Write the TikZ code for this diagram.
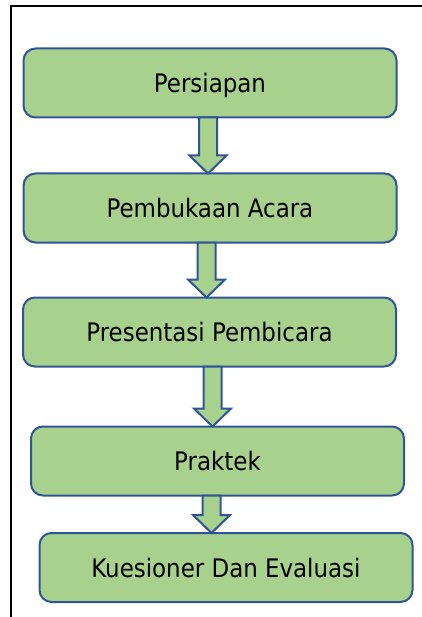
\documentclass[tikz,border=0pt]{standalone}
\usepackage{fontspec}
\setmainfont{DejaVu Sans Condensed}
\usetikzlibrary{calc}
\definecolor{boxfill}{HTML}{A9D18E}
\definecolor{boxline}{HTML}{2F5597}
\tikzset{
  stepbox/.style={draw=boxline, fill=boxfill, line width=2pt, rounded corners=12pt,
    minimum width=373pt, minimum height=69pt, inner sep=0pt, outer sep=0pt},
  steptext/.style={inner sep=0pt, text height=19pt, text depth=6.4pt,
    font=\fontsize{25.5}{30}\selectfont, text=black},
  barrow/.style={draw=boxline, fill=boxfill, line width=2pt, line join=miter},
  frameline/.style={draw=black, line width=2.2pt}
}
\newcommand\myblockarrow[4]{%
  \draw[barrow] ($(#1.south)+(#3-9,0)$) -- ($(#2.north)+(#4-9,-18)$)
    -- ($(#2.north)+(#4-18.5,-18)$) -- ($(#2.north)+(#4,0)$)
    -- ($(#2.north)+(#4+18.5,-18)$) -- ($(#2.north)+(#4+9,-18)$)
    -- ($(#1.south)+(#3+9,0)$) -- cycle;}
\newcommand\mystep[3]{%
  \node[stepbox] (#1) at (#2) {};
  \node[steptext] (#1t) at ($(#1.center)+(0,3.6)$) {#3};}
\begin{document}
\begin{tikzpicture}[x=1pt,y=-1pt]
\useasboundingbox (0,0) rectangle (422,617);
\coordinate (fr1) at (422,6);
\coordinate (fr2) at (10.6,6);
\coordinate (fr3) at (10.6,617);
\draw[frameline] (fr1) -- (fr2) -- (fr3);
\mystep{p1}{210,83}{Persiapan}
\mystep{p2}{210,208}{Pembukaan Acara}
\mystep{p3}{209.5,332}{Presentasi Pembicara}
\mystep{p4}{217.5,461}{Praktek}
\mystep{p5}{226,567.5}{Kuesioner Dan Evaluasi}
\myblockarrow{p1}{p2}{-2}{-2}
\myblockarrow{p2}{p3}{-3.5}{-3}
\myblockarrow{p3}{p4}{3}{-5}
\myblockarrow{p4}{p5}{-6}{-14.5}
\end{tikzpicture}
\end{document}
